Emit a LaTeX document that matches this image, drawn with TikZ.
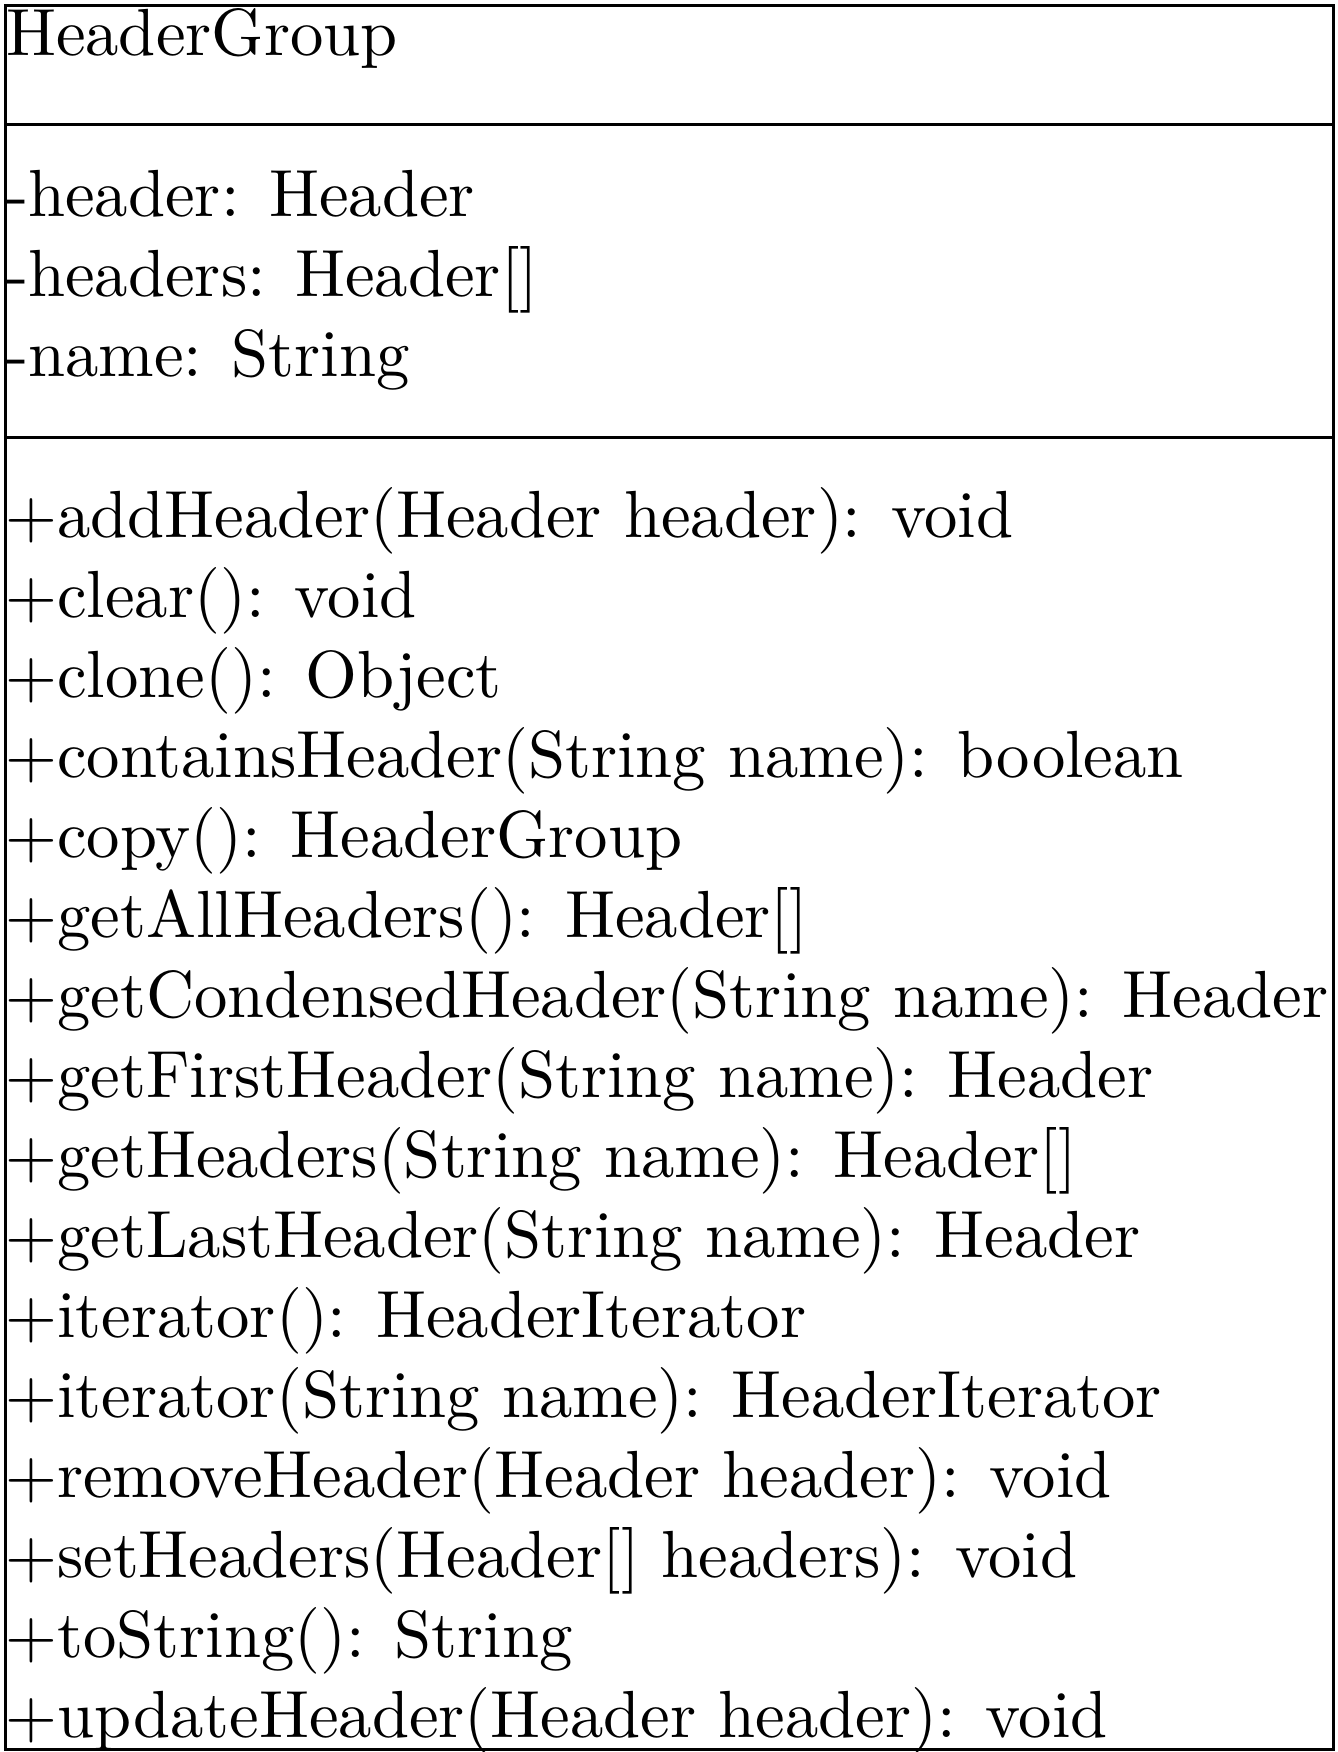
\documentclass[tikz,border=0pt]{standalone}
\begin{document}
\begin{tikzpicture}[x=1pt,y=1pt,
  umlline/.style={line width=0.45pt,black},
  member/.style={anchor=base west,inner sep=0pt,outer sep=0pt,font=\fontsize{10}{12}\selectfont}]
  % page frame
  \useasboundingbox (0,0) rectangle (200.7,-262.8);
  % class box and compartment separators
  \draw[umlline] (0.75,-0.75) rectangle (199.95,-262.35);
  \draw[umlline] (0.75,-18.6) -- (199.95,-18.6);
  \draw[umlline] (0.75,-65.55) -- (199.95,-65.55);
  % class name
  \node[member] (cname) at (0.9,-8.25) {HeaderGroup};
  % attributes
  \node[member] (a1) at (0.9,-32.4) {-header: Header};
  \node[member] (a2) at (0.9,-44.4) {-headers: Header[]};
  \node[member] (a3) at (0.9,-56.4) {-name: String};
  % operations
  \foreach \txt [count=\i] in {
    {+addHeader(Header header): void},
    {+clear(): void},
    {+clone(): Object},
    {+containsHeader(String name): boolean},
    {+copy(): HeaderGroup},
    {+getAllHeaders(): Header[]},
    {+getCondensedHeader(String name): Header},
    {+getFirstHeader(String name): Header},
    {+getHeaders(String name): Header[]},
    {+getLastHeader(String name): Header},
    {+iterator(): HeaderIterator},
    {+iterator(String name): HeaderIterator},
    {+removeHeader(Header header): void},
    {+setHeaders(Header[] headers): void},
    {+toString(): String},
    {+updateHeader(Header header): void}}
    \node[member] (m\i) at (0.8,{-80.55-12*(\i-1)}) {\txt};
\end{tikzpicture}
\end{document}
